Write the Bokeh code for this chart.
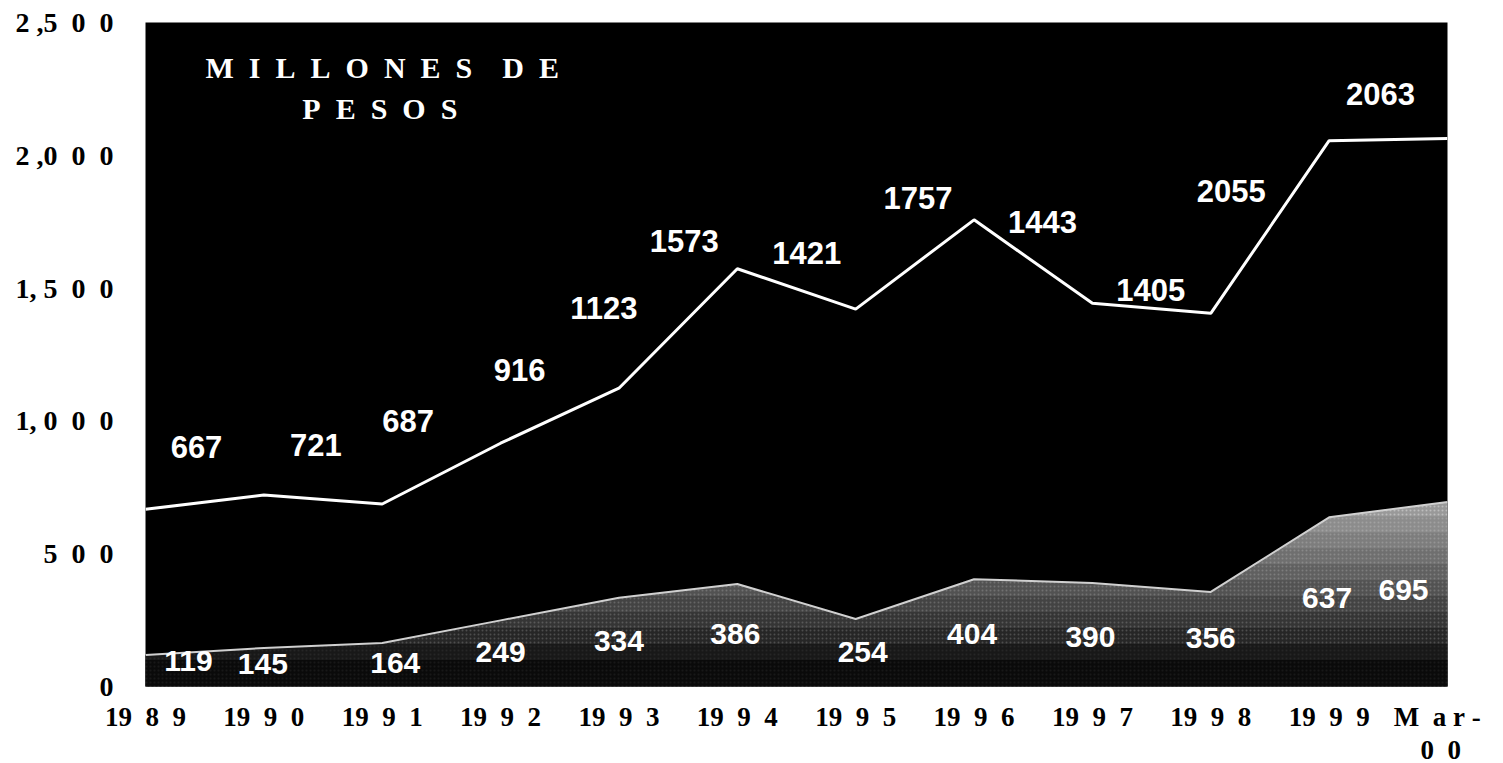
from bokeh.plotting import figure
from bokeh.models import Range1d, FixedTicker, ColumnDataSource
from bokeh.core.properties import value
from bokeh.embed import file_html
from bokeh.resources import INLINE

NB = "\u00a0"
SP2 = NB * 2

# ---- data ----
periods = ["1989", "1990", "1991", "1992", "1993", "1994", "1995",
           "1996", "1997", "1998", "1999", "Mar-00"]
total = [667, 721, 687, 916, 1123, 1573, 1421, 1757, 1443, 1405, 2055, 2063]
lower = [119, 145, 164, 249, 334, 386, 254, 404, 390, 356, 637, 695]
y_ticks = [0, 500, 1000, 1500, 2000, 2500]
y_tick_labels = ["0", "5" + SP2 + "0" + SP2 + "0",
                 "1," + NB + "0" + SP2 + "0" + SP2 + "0",
                 "1," + NB + "5" + SP2 + "0" + SP2 + "0",
                 "2" + NB + ",0" + SP2 + "0" + SP2 + "0",
                 "2" + NB + ",5" + SP2 + "0" + SP2 + "0"]
x_tick_labels = ["19" + SP2 + p[2] + SP2 + p[3] for p in periods[:-1]] + \
                ["M" + SP2 + "a" + NB + "r" + NB + "-" + NB + "\n0" + SP2 + "0"]
caption = [SP2.join(list("MILLONES")) + NB * 4 + "D" + SP2 + "E",
           SP2.join(list("PESOS"))]

# label offsets in screen pixels (placement only)
top_dx = [51, 52, 26, 19, -15, -53, -49, -56, -50, -60, -98, -67]
top_dy = [62, 50, 83, 73, 80, 28, 56, 22, 81, 23, -50, 45]
low_dx = [43, -1, 13, 0, 0, -2, 7, -2, -2, 0, -2, -44]
low_dy = [-6, -16, -20, -32, -43, -50, -33, -55, -54, -46, -81, -88]

# shading bands of the lower area (style: darker toward the baseline)
band_levels = [640, 580, 520, 460, 400, 340, 280, 220, 160, 100]

xs = list(range(len(periods)))


def clipped(xv, yv, t):
    ox, oy = [], []
    for i in range(len(xv)):
        if i > 0:
            a, b = yv[i - 1], yv[i]
            if (a - t) * (b - t) < 0:
                ox.append(xv[i - 1] + (t - a) / (b - a) * (xv[i] - xv[i - 1]))
                oy.append(t)
        ox.append(xv[i])
        oy.append(min(yv[i], t))
    return ox, oy


def grey(t):
    lo, hi = 10, 140
    f = max(0.0, min(1.0, (t - 100) / (640 - 100)))
    g = int(lo + f * (hi - lo))
    return "#%02x%02x%02x" % (g, g, g)


p = figure(frame_width=1302, frame_height=664,
           x_range=Range1d(0, len(periods) - 1), y_range=Range1d(0, 2500),
           output_backend="svg", toolbar_location=None,
           min_border_left=145, min_border_right=40,
           min_border_top=22, min_border_bottom=70)
p.background_fill_color = "black"
p.border_fill_color = "white"
p.outline_line_color = None
p.xgrid.visible = False
p.ygrid.visible = False

# lower series (area) with vertical shading
p.varea(x=xs, y1=[0] * len(xs), y2=lower, fill_color="#999999",
        hatch_pattern="dot", hatch_color="white", hatch_alpha=0.35,
        hatch_scale=4, hatch_weight=1.3)
for t in band_levels:
    bx, by = clipped(xs, lower, t)
    p.varea(x=bx, y1=[0] * len(bx), y2=by, fill_color=grey(t),
            hatch_pattern="dot", hatch_color="white", hatch_alpha=0.18 if t > 160 else 0.06,
            hatch_scale=4, hatch_weight=1.3)
p.line(x=xs, y=lower, line_color="#d0d0d0", line_width=2)

# total series (line)
p.line(x=xs, y=total, line_color="white", line_width=3)

src_top = ColumnDataSource(dict(x=xs, y=total, t=[str(v) for v in total],
                                dx=top_dx, dy=[-d for d in top_dy]))
p.text(x="x", y="y", text="t", x_offset="dx", y_offset="dy", source=src_top,
       text_color="white", text_font=value("Liberation Sans"), text_font_style="bold",
       text_font_size="31px", text_align="center", text_baseline="middle")

src_low = ColumnDataSource(dict(x=xs, y=lower, t=[str(v) for v in lower],
                                dx=low_dx, dy=[-d for d in low_dy]))
p.text(x="x", y="y", text="t", x_offset="dx", y_offset="dy", source=src_low,
       text_color="white", text_font=value("Liberation Sans"), text_font_style="bold",
       text_font_size="30px", text_align="center", text_baseline="middle")

# unit caption
p.text(x=[2.0, 1.98], y=[2330, 2175], text=caption,
       text_color="white", text_font=value("Liberation Serif"), text_font_style="bold",
       text_font_size="30px", text_align="center", text_baseline="middle")

# axes
p.yaxis.ticker = FixedTicker(ticks=y_ticks)
p.yaxis.major_label_overrides = {t: l for t, l in zip(y_ticks, y_tick_labels)}
p.xaxis.ticker = FixedTicker(ticks=xs)
p.xaxis.major_label_overrides = {i: l for i, l in zip(xs, x_tick_labels)}
for ax in (p.xaxis, p.yaxis):
    ax.axis_line_color = None
    ax.major_tick_line_color = None
    ax.minor_tick_line_color = None
    ax.major_tick_out = 0
    ax.major_tick_in = 0
    ax.major_label_text_font = "Liberation Serif"
    ax.major_label_text_font_style = "bold"
    ax.major_label_text_color = "black"
p.yaxis.major_label_text_font_size = "28px"
p.xaxis.major_label_text_font_size = "27px"
p.yaxis.major_label_standoff = 32
p.xaxis.major_label_standoff = 15
p.xaxis.major_label_text_line_height = 1.12

open("out.html", "w").write(file_html(p, INLINE))
